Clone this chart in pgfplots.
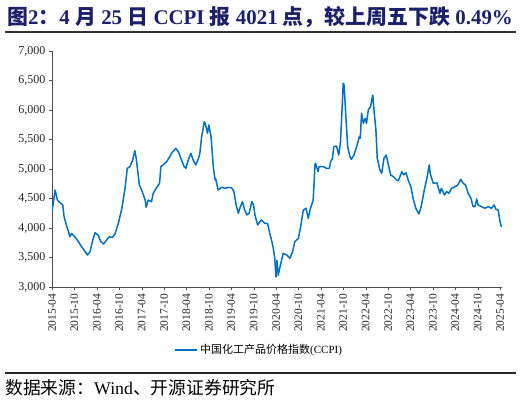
\documentclass[border=0pt]{standalone}
\usepackage{fontspec}
\setmainfont{Liberation Serif}
\newfontfamily\cjk{Noto Sans CJK SC}
\usepackage{pgfplots}
\pgfplotsset{compat=1.18}
\definecolor{navy}{RGB}{28,32,105}
\definecolor{ccpi}{RGB}{0,112,192}

\begin{document}
\begin{tikzpicture}
\useasboundingbox (0pt,0pt) rectangle (521pt,404pt);
% title and rules
\node[anchor=west, text=navy, inner sep=0, font=\fontsize{20.9}{21}\selectfont\bfseries] at (7pt,387pt)
  {{\cjk 图}2{\cjk ：}4 {\cjk 月} 25 {\cjk 日} CCPI {\cjk 报} 4021 {\cjk 点，较上周五下跌} 0.49\%};
\draw[line width=1.1pt, black!80] (5pt,372pt) -- (516pt,372pt);
\draw[line width=1.1pt, black!85] (5pt,31pt) -- (516pt,31pt);
\node[anchor=west, inner sep=0, font=\fontsize{17.8}{18}\selectfont] at (5pt,16pt)
  {{\cjk 数据来源：}Wind{\cjk 、开源证券研究所}};

\begin{axis}[
    at={(52pt,117pt)}, anchor=south west,
    scale only axis,
    width=449.8pt, height=236pt,
    xmin=2015.25, xmax=2025.29,
    ymin=3000, ymax=7000,
    axis lines=left,
    axis line style={-, black!70},
    tick style={black!70},
    tick align=outside,
    major tick length=3pt,
    ytick={3000,3500,4000,4500,5000,5500,6000,6500,7000},
    scaled y ticks=false,
    yticklabel style={/pgf/number format/1000 sep={,}, /pgf/number format/assume math mode=true,
        font=\fontsize{12}{12}\selectfont, text=black!85},
    xtick={2015.25,2015.75,2016.25,2016.75,2017.25,2017.75,2018.25,2018.75,2019.25,2019.75,
           2020.25,2020.75,2021.25,2021.75,2022.25,2022.75,2023.25,2023.75,2024.25,2024.75,2025.25},
    xticklabels={2015-04,2015-10,2016-04,2016-10,2017-04,2017-10,2018-04,2018-10,2019-04,2019-10,
           2020-04,2020-10,2021-04,2021-10,2022-04,2022-10,2023-04,2023-10,2024-04,2024-10,2025-04},
    xticklabel style={rotate=90, anchor=east, font=\fontsize{11.5}{11.5}\selectfont, text=black!85},
    legend style={at={(0.461,-0.267)}, anchor=center, draw=none, fill=none,
        font=\fontsize{11}{11}\selectfont\cjk, inner sep=0pt},
    legend image code/.code={\draw[#1] (0pt,0pt) -- (22pt,0pt);},
]
% CCPI index
\addplot[color=ccpi, line width=1.5pt, line join=round] coordinates {
(2015.25,4276) (2015.32,4644) (2015.37,4474) (2015.41,4446) (2015.49,4390)
(2015.52,4192) (2015.58,4022) (2015.62,3937) (2015.65,3852) (2015.69,3907)
(2015.76,3852) (2015.84,3768) (2015.91,3683) (2015.99,3598) (2016.04,3542)
(2016.10,3598) (2016.16,3796) (2016.21,3920) (2016.28,3880) (2016.34,3768)
(2016.40,3729) (2016.47,3796) (2016.53,3852) (2016.60,3840) (2016.66,3907)
(2016.73,4079) (2016.81,4334) (2016.88,4673) (2016.93,5012) (2016.99,5040)
(2017.05,5152) (2017.10,5310) (2017.13,5180) (2017.20,4729) (2017.25,4644)
(2017.33,4474) (2017.35,4350) (2017.40,4474) (2017.47,4446) (2017.51,4588)
(2017.59,4690) (2017.65,4757) (2017.68,5040) (2017.73,5068) (2017.81,5124)
(2017.87,5198) (2017.92,5266) (2018.01,5351) (2018.07,5294) (2018.14,5152)
(2018.20,5040) (2018.24,5012) (2018.29,5152) (2018.35,5266) (2018.40,5152)
(2018.46,5068) (2018.52,5181) (2018.55,5266) (2018.59,5548) (2018.65,5802)
(2018.67,5774) (2018.72,5605) (2018.75,5746) (2018.80,5548) (2018.85,5040)
(2018.89,4814) (2018.90,4842) (2018.96,4644) (2019.04,4690) (2019.11,4673)
(2019.19,4690) (2019.26,4680) (2019.31,4616) (2019.36,4390) (2019.41,4249)
(2019.43,4306) (2019.50,4446) (2019.55,4306) (2019.60,4220) (2019.65,4249)
(2019.71,4446) (2019.75,4390) (2019.78,4220) (2019.84,4051) (2019.92,4136)
(2020.00,4079) (2020.06,4079) (2020.12,3881) (2020.15,3796) (2020.19,3656)
(2020.22,3500) (2020.25,3170) (2020.27,3454) (2020.30,3200) (2020.34,3344)
(2020.41,3571) (2020.49,3543) (2020.56,3486) (2020.62,3598) (2020.67,3768)
(2020.75,3825) (2020.80,4022) (2020.86,4305) (2020.92,4334) (2020.97,4164)
(2021.02,4334) (2021.08,4474) (2021.12,5068) (2021.13,5096) (2021.19,4955)
(2021.21,5040) (2021.31,5040) (2021.37,5012) (2021.44,5012) (2021.47,5124)
(2021.51,5181) (2021.54,5378) (2021.60,5390) (2021.65,5237) (2021.69,5463)
(2021.72,5944) (2021.75,6452) (2021.77,6424) (2021.81,5887) (2021.85,5378)
(2021.90,5209) (2021.93,5164) (2021.99,5237) (2022.05,5378) (2022.11,5548)
(2022.13,5520) (2022.16,5944) (2022.20,5775) (2022.24,5859) (2022.27,5775)
(2022.31,6000) (2022.36,6056) (2022.41,6254) (2022.44,5971) (2022.48,5661)
(2022.51,5181) (2022.57,4983) (2022.61,4927) (2022.66,5181) (2022.71,5237)
(2022.76,5068) (2022.81,4898) (2022.87,4870) (2022.94,4814) (2022.98,4803)
(2023.06,4955) (2023.10,4899) (2023.15,4938) (2023.20,4814) (2023.26,4700)
(2023.31,4503) (2023.37,4334) (2023.44,4237) (2023.49,4361) (2023.56,4644)
(2023.61,4814) (2023.67,5068) (2023.69,4927) (2023.76,4757) (2023.84,4768)
(2023.91,4588) (2023.94,4672) (2024.01,4560) (2024.06,4616) (2024.11,4588)
(2024.17,4672) (2024.25,4700) (2024.31,4729) (2024.37,4825) (2024.43,4757)
(2024.48,4729) (2024.54,4588) (2024.60,4503) (2024.65,4361) (2024.69,4361)
(2024.73,4492) (2024.76,4390) (2024.84,4361) (2024.91,4334) (2024.99,4361)
(2025.06,4334) (2025.12,4390) (2025.16,4316) (2025.21,4305) (2025.25,4107)
(2025.28,4021)
};
\addlegendentry{中国化工产品价格指数{\rmfamily(CCPI)}}
\end{axis}
\end{tikzpicture}
\end{document}
